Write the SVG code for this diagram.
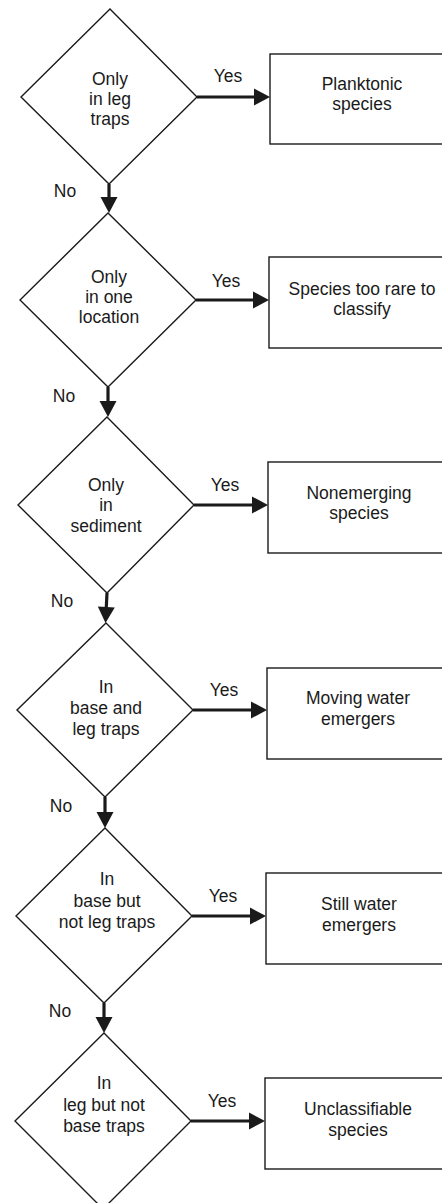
<svg xmlns="http://www.w3.org/2000/svg" width="442" height="1203" viewBox="0 0 442 1203">
<style>
.sh{fill:#fff;stroke:#1a1a1a;stroke-width:1.4}
.t{font-family:"Liberation Sans",Arial,sans-serif;font-size:17.5px;fill:#1a1a1a;text-anchor:middle}
.c{stroke:#1a1a1a;stroke-width:3.2;fill:none}
</style>
<defs>
<marker id="ah" markerUnits="userSpaceOnUse" markerWidth="18" markerHeight="18" refX="6" refY="8.5" orient="auto" overflow="visible">
<path d="M0,0 L16,8.5 L0,17 Z" fill="#1a1a1a"/>
</marker>
</defs>
<rect width="442" height="1203" fill="#fff"/>
<g id="connectors">
<line class="c" x1="197" y1="97" x2="260" y2="97" marker-end="url(#ah)"/>
<line class="c" x1="196" y1="300" x2="259" y2="300" marker-end="url(#ah)"/>
<line class="c" x1="194" y1="505" x2="258" y2="505" marker-end="url(#ah)"/>
<line class="c" x1="193" y1="710" x2="257" y2="710" marker-end="url(#ah)"/>
<line class="c" x1="192" y1="916" x2="256" y2="916" marker-end="url(#ah)"/>
<line class="c" x1="191" y1="1121" x2="255" y2="1121" marker-end="url(#ah)"/>
<line class="c" x1="109" y1="184" x2="109" y2="203" marker-end="url(#ah)"/>
<line class="c" x1="108" y1="387" x2="108" y2="407" marker-end="url(#ah)"/>
<line class="c" x1="107" y1="593" x2="106" y2="613" marker-end="url(#ah)"/>
<line class="c" x1="105" y1="797" x2="105" y2="818" marker-end="url(#ah)"/>
<line class="c" x1="104" y1="1003" x2="104" y2="1023" marker-end="url(#ah)"/>
<text class="t" x="228" y="82">Yes</text>
<text class="t" x="226" y="287">Yes</text>
<text class="t" x="225" y="491">Yes</text>
<text class="t" x="224" y="696">Yes</text>
<text class="t" x="223" y="902">Yes</text>
<text class="t" x="222" y="1107">Yes</text>
<text class="t" x="65" y="197">No</text>
<text class="t" x="64" y="402">No</text>
<text class="t" x="62" y="607">No</text>
<text class="t" x="61" y="812">No</text>
<text class="t" x="60" y="1017">No</text>
</g>
<g id="d1">
<polygon class="sh" points="110,9 197,97 109,184 21,97"/>
<text class="t" x="110" y="85">Only</text>
<text class="t" x="110" y="105">in leg</text>
<text class="t" x="110" y="125">traps</text>
</g>
<g id="b1">
<rect class="sh" x="270" y="54" width="190" height="90"/>
<text class="t" x="362" y="90">Planktonic</text>
<text class="t" x="362" y="110">species</text>
</g>
<g id="d2">
<polygon class="sh" points="108,213 196,300 108,387 20,300"/>
<text class="t" x="109" y="283">Only</text>
<text class="t" x="109" y="303">in one</text>
<text class="t" x="109" y="323">location</text>
</g>
<g id="b2">
<rect class="sh" x="269" y="257" width="190" height="91"/>
<text class="t" x="362" y="295">Species too rare to</text>
<text class="t" x="362" y="315">classify</text>
</g>
<g id="d3">
<polygon class="sh" points="107,417 194,505 107,593 18,505"/>
<text class="t" x="106" y="491">Only</text>
<text class="t" x="106" y="511">in</text>
<text class="t" x="106" y="532">sediment</text>
</g>
<g id="b3">
<rect class="sh" x="268" y="462" width="190" height="91"/>
<text class="t" x="359" y="499">Nonemerging</text>
<text class="t" x="359" y="519">species</text>
</g>
<g id="d4">
<polygon class="sh" points="106,623 193,710 105,797 17,710"/>
<text class="t" x="106" y="693">In</text>
<text class="t" x="106" y="714">base and</text>
<text class="t" x="106" y="735">leg traps</text>
</g>
<g id="b4">
<rect class="sh" x="267" y="668" width="190" height="91"/>
<text class="t" x="358" y="704">Moving water</text>
<text class="t" x="358" y="725">emergers</text>
</g>
<g id="d5">
<polygon class="sh" points="105,828 192,916 104,1003 16,916"/>
<text class="t" x="107" y="885">In</text>
<text class="t" x="107" y="907">base but</text>
<text class="t" x="107" y="928">not leg traps</text>
</g>
<g id="b5">
<rect class="sh" x="266" y="873" width="190" height="91"/>
<text class="t" x="359" y="910">Still water</text>
<text class="t" x="359" y="931">emergers</text>
</g>
<g id="d6">
<polygon class="sh" points="104,1033 191,1121 103,1209 15,1121"/>
<text class="t" x="104" y="1089">In</text>
<text class="t" x="104" y="1111">leg but not</text>
<text class="t" x="104" y="1132">base traps</text>
</g>
<g id="b6">
<rect class="sh" x="265" y="1078" width="190" height="91"/>
<text class="t" x="358" y="1115">Unclassifiable</text>
<text class="t" x="358" y="1136">species</text>
</g>
</svg>
